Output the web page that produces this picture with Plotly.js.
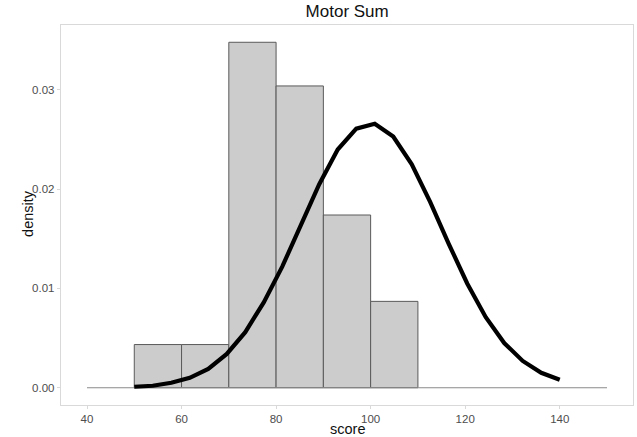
<!DOCTYPE html>
<html>
<head>
<meta charset="utf-8">
<script src="https://cdn.plot.ly/plotly-3.0.1.min.js"></script>
<style>html,body{margin:0;padding:0;background:#fff;}#chart{width:637px;height:437px;}</style>
</head>
<body>
<div id="chart"></div>
<script>
// Histogram bins (left edges) and densities
const binStarts = [50, 60, 70, 80, 90, 100];
const binWidth = 10;
const binDensity = [0.00435, 0.00435, 0.0348, 0.0304, 0.0174, 0.0087];

// Overlaid density curve
const curveX = [50.00, 53.91, 57.83, 61.74, 65.65, 69.57, 73.48, 77.39, 81.30, 85.22, 89.13, 93.04,
                96.96, 100.87, 104.78, 108.70, 112.61, 116.52, 120.43, 124.35, 128.26, 132.17, 136.09, 140.00];
const curveY = [0.0001, 0.0002, 0.0005, 0.0010, 0.0019, 0.0034, 0.0056, 0.0086, 0.0122, 0.0164, 0.0205, 0.0240,
                0.0261, 0.0266, 0.0253, 0.0225, 0.0187, 0.0145, 0.0105, 0.0071, 0.0045, 0.0027, 0.0015, 0.0008];

// Baseline segment
const baseX = [40, 150];
const baseY = [0, 0];

const xTicks = [40, 60, 80, 100, 120, 140];
const yTicks = [0, 0.01, 0.02, 0.03];
const yTickText = ["0.00", "0.01", "0.02", "0.03"];

const barCenters = binStarts.map(b => b + binWidth / 2);

const traces = [
  {
    type: 'scatter', mode: 'lines', x: baseX, y: baseY,
    line: {color: '#8a8a8a', width: 1.2}, hoverinfo: 'skip', showlegend: false
  },
  {
    type: 'bar', x: barCenters, y: binDensity, width: binWidth,
    marker: {color: '#cccccc', line: {color: '#5a5a5a', width: 1}},
    showlegend: false
  },
  {
    type: 'scatter', mode: 'lines', x: curveX, y: curveY,
    line: {color: '#000000', width: 4.2}, showlegend: false
  }
];

const fam = 'Liberation Sans, Arial, sans-serif';
const axisFont = {family: fam, size: 11.5, color: '#4d4d4d'};

const layout = {
  width: 637, height: 437,
  margin: {l: 61, r: 4, t: 25, b: 32},
  paper_bgcolor: '#ffffff', plot_bgcolor: '#ffffff',
  bargap: 0,
  title: {
    text: 'Motor Sum',
    font: {family: fam, size: 17, color: '#111'},
    x: 0.545, xanchor: 'center', y: 0.975, yanchor: 'middle'
  },
  xaxis: {
    range: [34.5, 155.5], tickvals: xTicks, ticktext: xTicks.map(String),
    showgrid: false, zeroline: false,
    showline: true, mirror: true, linecolor: '#d9d9d9', linewidth: 1.2,
    ticks: 'outside', ticklen: 3, tickcolor: '#d9d9d9', tickfont: axisFont
  },
  yaxis: {
    range: [-0.00174, 0.03654], tickvals: yTicks, ticktext: yTickText,
    showgrid: false, zeroline: false,
    showline: true, mirror: true, linecolor: '#d9d9d9', linewidth: 1.2,
    ticks: 'outside', ticklen: 3, tickcolor: '#d9d9d9', tickfont: axisFont
  },
  annotations: [
    {text: 'score', xref: 'paper', yref: 'paper', x: 0.5, y: -0.062,
     xanchor: 'center', yanchor: 'middle', showarrow: false,
     font: {family: fam, size: 14.5, color: '#111'}},
    {text: 'density', xref: 'paper', yref: 'paper', x: -0.058, y: 0.505,
     xanchor: 'center', yanchor: 'middle', showarrow: false, textangle: -90,
     font: {family: fam, size: 14.5, color: '#111'}}
  ]
};

Plotly.newPlot('chart', traces, layout, {displayModeBar: false, staticPlot: true});
</script>
</body>
</html>
